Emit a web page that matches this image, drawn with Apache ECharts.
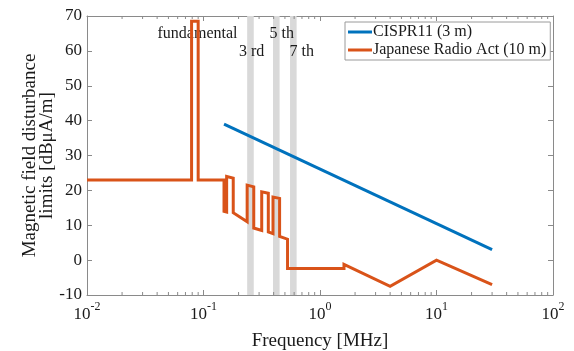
<!DOCTYPE html>
<html>
<head>
<meta charset="utf-8">
<script src="https://cdn.jsdelivr.net/npm/echarts@6/dist/echarts.min.js"></script>
<style>
html,body{margin:0;padding:0;background:#fff;}
#c{width:574px;height:351px;}
</style>
</head>
<body>
<div id="c"></div>
<script>
// ---- data ----
const cisprFreq = [0.15, 30];
const cisprVal  = [39, 3];

const jraFreq = [0.01, 0.079, 0.079, 0.09, 0.09, 0.15, 0.15, 0.158, 0.158, 0.18, 0.18, 0.237, 0.237, 0.27, 0.27, 0.316, 0.316, 0.36, 0.36, 0.395, 0.395, 0.45, 0.45, 0.5265, 0.5265, 1.6065, 1.6065, 4, 10, 30];
const jraVal  = [23, 23, 68.5, 68.5, 23, 23, 14, 13.8, 24, 23.5, 13.6, 11, 21.5, 21, 9.2, 8.5, 19.6, 19.2, 8.1, 7.6, 18.1, 17.7, 6.8, 6, -2.4, -2.4, -1.2, -7.5, 0, -7];

const bandStart = [0.237, 0.395, 0.553];
const bandEnd   = [0.27, 0.45, 0.63];

const noteText = ['fundamental', '3 rd', '5 th', '7 th'];
const noteFreq = [0.0888, 0.259, 0.469, 0.697];
const noteVal  = [65, 59.6, 65, 59.6];

const seriesNames = ['CISPR11 (3 m)', 'Japanese Radio Act (10 m)'];

// minor tick positions for log axis (axis decoration)
const minorTicks = [];
for (let e = -2; e < 2; e++) for (let k = 2; k <= 9; k++) minorTicks.push(k * Math.pow(10, e));

const FONT = 'Liberation Serif';
const AX = '#8a8a8a';
const TXT = '#1a1a1a';

const chart = echarts.init(document.getElementById('c'));

const pairs = (xs, ys) => xs.map((x, i) => [x, ys[i]]);

const xBase = {
  type: 'log', logBase: 10, min: 0.01, max: 100,
  splitLine: {show: false}, minorTick: {show: false},
  axisLine: {show: true, onZero: false, lineStyle: {color: AX, width: 1}},
  axisTick: {show: true, inside: true, length: 5, lineStyle: {color: AX}}
};
const yBase = {
  type: 'value', min: -10, max: 70, interval: 10,
  splitLine: {show: false},
  axisLine: {show: true, onZero: false, lineStyle: {color: AX, width: 1}},
  axisTick: {show: true, inside: true, length: 5, lineStyle: {color: AX}}
};

chart.setOption({
  animation: false,
  backgroundColor: '#fff',
  grid: {left: 87, right: 21, top: 16, bottom: 56, containLabel: false, outerBoundsMode: 'none'},
  legend: {
    data: seriesNames.map(n => ({name: n, icon: 'rect'})),
    orient: 'vertical', left: 345, top: 22,
    itemWidth: 24, itemHeight: 3, itemGap: 2,
    padding: [2, 4, 2, 3],
    borderColor: '#9a9a9a', borderWidth: 1, backgroundColor: '#fff',
    textStyle: {fontFamily: FONT, fontSize: 16, color: TXT, padding: [0, 0, 0, -4]}
  },
  xAxis: [
    Object.assign({}, xBase, {
      position: 'bottom',
      name: 'Frequency [MHz]', nameLocation: 'middle', nameGap: 37, nameMoveOverlap: false,
      nameTextStyle: {fontFamily: FONT, fontSize: 19, color: TXT},
      axisLabel: {
        margin: 6, color: TXT, fontFamily: FONT,
        formatter: v => '{b|10}{s|' + Math.round(Math.log10(v)) + '}',
        rich: {
          b: {fontFamily: FONT, fontSize: 17, color: TXT, verticalAlign: 'bottom', lineHeight: 22},
          s: {fontFamily: FONT, fontSize: 12, color: TXT, verticalAlign: 'top', lineHeight: 22, padding: [0, 0, 8, 0]}
        }
      }
    }),
    Object.assign({}, xBase, {position: 'top', axisLabel: {show: false}})
  ],
  yAxis: [
    Object.assign({}, yBase, {
      position: 'left',
      name: 'Magnetic field disturbance\nlimits [dBμA/m]', nameLocation: 'middle', nameGap: 31, nameMoveOverlap: false,
      nameTextStyle: {fontFamily: FONT, fontSize: 19, color: TXT, lineHeight: 17},
      axisLabel: {margin: 5, fontFamily: FONT, fontSize: 17, color: TXT}
    }),
    Object.assign({}, yBase, {position: 'right', axisLabel: {show: false}})
  ],
  series: [
    {
      name: 'bands', type: 'line', data: [], z: 1, silent: true,
      markArea: {
        silent: true,
        itemStyle: {color: '#d9d9d9'},
        data: bandStart.map((s, i) => [{xAxis: s}, {xAxis: bandEnd[i]}])
      }
    },
    {
      name: 'notes', type: 'custom', z: 3, silent: true,
      data: noteFreq.map((f, i) => [f, noteVal[i], i]),
      encode: {x: 0, y: 1},
      renderItem: (params, api) => {
        const p = api.coord([api.value(0), api.value(1)]);
        return {type: 'text', x: p[0], y: p[1], style: {
          text: noteText[api.value(2)], fill: TXT, font: '16px "Liberation Serif"',
          align: 'center', verticalAlign: 'middle'
        }};
      }
    },
    {
      name: 'minor', type: 'custom', z: 2, silent: true,
      data: minorTicks.map(f => [f]),
      renderItem: (params, api) => {
        const f = api.value(0);
        const b = api.coord([f, -10]);
        const t = api.coord([f, 70]);
        return {type: 'group', children: [
          {type: 'line', shape: {x1: b[0], y1: b[1], x2: b[0], y2: b[1] - 3}, style: {stroke: AX, lineWidth: 1}},
          {type: 'line', shape: {x1: t[0], y1: t[1], x2: t[0], y2: t[1] + 3}, style: {stroke: AX, lineWidth: 1}}
        ]};
      },
      encode: {x: 0}
    },
    {
      name: seriesNames[0], type: 'line', z: 4, showSymbol: false, symbol: 'none',
      data: pairs(cisprFreq, cisprVal),
      lineStyle: {color: '#0072BD', width: 3}, itemStyle: {color: '#0072BD'}
    },
    {
      name: seriesNames[1], type: 'line', z: 4, showSymbol: false, symbol: 'none',
      data: pairs(jraFreq, jraVal),
      lineStyle: {color: '#D95319', width: 3, join: 'miter'}, itemStyle: {color: '#D95319'}
    }
  ]
});
</script>
</body>
</html>
